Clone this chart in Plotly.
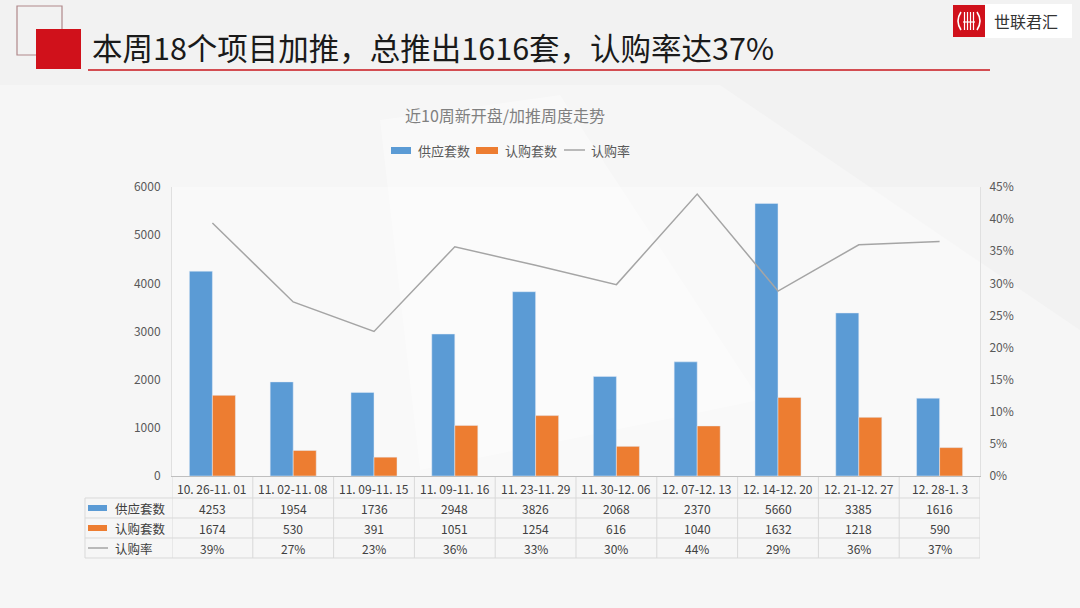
import plotly.graph_objects as go

categories = ["10.26-11.01", "11.02-11.08", "11.09-11.15", "11.09-11.16", "11.23-11.29",
              "11.30-12.06", "12.07-12.13", "12.14-12.20", "12.21-12.27", "12.28-1.3"]
supply = [4253, 1954, 1736, 2948, 3826, 2068, 2370, 5660, 3385, 1616]
sold = [1674, 530, 391, 1051, 1254, 616, 1040, 1632, 1218, 590]
rate = [0.394, 0.271, 0.225, 0.357, 0.328, 0.298, 0.439, 0.288, 0.360, 0.365]
rate_labels = ["39%", "27%", "23%", "36%", "33%", "30%", "44%", "29%", "36%", "37%"]
series_names = ["供应套数", "认购套数", "认购率"]
title_text = "本周18个项目加推，总推出1616套，认购率达37%"
chart_title = "近10周新开盘/加推周度走势"
brand = "世联君汇"

W, H = 1080, 608
L, R, T, B = 172, 980, 187, 476
PW, PH = R - L, B - T

def px(x):
    return (x - L) / PW

def py(y):
    return (B - y) / PH

BLUE = "#5B9BD5"
ORANGE = "#ED7D31"
GRAY = "#A5A5A5"
FONT = "Noto Sans CJK SC"
TXT = "#404040"

fig = go.Figure()
fig.add_trace(go.Bar(x=categories, y=supply, name=series_names[0], marker_color=BLUE))
fig.add_trace(go.Bar(x=categories, y=sold, name=series_names[1], marker_color=ORANGE))
fig.add_trace(go.Scatter(x=categories, y=rate, name=series_names[2], mode="lines",
                         line=dict(color=GRAY, width=1.5), yaxis="y2"))

shapes = []
annotations = []

def note(text, x, y, size, color, xanchor="center", family=FONT, xref="paper"):
    annotations.append(dict(text=text, xref=xref, yref="paper", x=x, y=y, xanchor=xanchor,
                            yanchor="middle", showarrow=False,
                            font=dict(family=family, size=size, color=color)))

# background light panels
shapes.append(dict(type="path", xref="paper", yref="paper", layer="below",
                   path=f"M {px(0)},{py(85)} L {px(720)},{py(85)} L {px(1080)},{py(330)} L {px(1080)},{py(608)} L {px(0)},{py(608)} Z",
                   fillcolor="rgba(255,255,255,0.3)", line_width=0))
shapes.append(dict(type="path", xref="paper", yref="paper", layer="below",
                   path=f"M {px(380)},{py(120)} L {px(560)},{py(95)} L {px(760)},{py(400)} L {px(420)},{py(470)} Z",
                   fillcolor="rgba(255,255,255,0.35)", line_width=0))

# decorative squares
shapes.append(dict(type="rect", xref="paper", yref="paper", x0=px(17), x1=px(62), y0=py(55), y1=py(6),
                   line=dict(color="#b0888a", width=1.2), fillcolor="rgba(0,0,0,0)"))
shapes.append(dict(type="rect", xref="paper", yref="paper", x0=px(36), x1=px(81), y0=py(69), y1=py(29),
                   line_width=0, fillcolor="#D0111B"))
# title underline
shapes.append(dict(type="line", xref="paper", yref="paper", x0=px(88), x1=px(990), y0=py(70), y1=py(70),
                   line=dict(color="#C8161D", width=1.5)))
# logo
shapes.append(dict(type="rect", xref="paper", yref="paper", x0=px(985), x1=px(1072), y0=py(38), y1=py(4),
                   line_width=0, fillcolor="white"))
shapes.append(dict(type="rect", xref="paper", yref="paper", x0=px(953), x1=px(985), y0=py(37), y1=py(5),
                   line_width=0, fillcolor="#D0111B"))
wl = dict(color="white", width=1.6)
shapes.append(dict(type="path", xref="paper", yref="paper",
                   path=f"M {px(961)},{py(12)} Q {px(955)},{py(21)} {px(961)},{py(30)}", line=wl))
shapes.append(dict(type="path", xref="paper", yref="paper",
                   path=f"M {px(977)},{py(12)} Q {px(983)},{py(21)} {px(977)},{py(30)}", line=wl))
for xv in (964.5, 967.5, 970.5, 973.5):
    shapes.append(dict(type="line", xref="paper", yref="paper", x0=px(xv), x1=px(xv), y0=py(12), y1=py(30),
                       line=dict(color="white", width=1.2)))
shapes.append(dict(type="line", xref="paper", yref="paper", x0=px(963), x1=px(975), y0=py(22), y1=py(22),
                   line=dict(color="white", width=1.2)))
note(brand, px(992), py(21), 16, "#333333", xanchor="left")
# title
note(title_text, px(90), py(47), 30.5, "#1a1a1a", xanchor="left")
# chart title
note(chart_title, px(505), py(115), 16, "#808080")

# legend (manual)
shapes.append(dict(type="rect", xref="paper", yref="paper", x0=px(391), x1=px(411), y0=py(154), y1=py(147),
                   line_width=0, fillcolor=BLUE))
note(series_names[0], px(416), py(150), 13, "#595959", xanchor="left")
shapes.append(dict(type="rect", xref="paper", yref="paper", x0=px(476), x1=px(498), y0=py(154), y1=py(147),
                   line_width=0, fillcolor=ORANGE))
note(series_names[1], px(503), py(150), 13, "#595959", xanchor="left")
shapes.append(dict(type="line", xref="paper", yref="paper", x0=px(564), x1=px(585), y0=py(150), y1=py(150),
                   line=dict(color=GRAY, width=1.5)))
note(series_names[2], px(589), py(150), 13, "#595959", xanchor="left")

# data table
row_y = [477, 498, 518, 538, 558]
TL = "#d9d9d9"
n = len(categories)
for yy in row_y[1:]:
    shapes.append(dict(type="line", xref="paper", yref="paper", x0=px(85), x1=px(R), y0=py(yy), y1=py(yy),
                       line=dict(color=TL, width=1)))
shapes.append(dict(type="line", xref="paper", yref="paper", x0=px(85), x1=px(85), y0=py(498), y1=py(558),
                   line=dict(color=TL, width=1)))
for i in range(n + 1):
    shapes.append(dict(type="line", xref="x", yref="paper", x0=i - 0.5, x1=i - 0.5, y0=py(477), y1=py(558),
                       line=dict(color=TL, width=1)))

centers = [488, 508, 528, 548]
rows = [categories, [str(v) for v in supply], [str(v) for v in sold], rate_labels]
for r, vals in enumerate(rows):
    for i, v in enumerate(vals):
        note(v.replace(".", ". ") if r == 0 else v, i, py(centers[r]), 12, TXT, xref="x")
# row headers
shapes.append(dict(type="rect", xref="paper", yref="paper", x0=px(88), x1=px(107), y0=py(511), y1=py(505),
                   line_width=0, fillcolor=BLUE))
shapes.append(dict(type="rect", xref="paper", yref="paper", x0=px(88), x1=px(107), y0=py(531), y1=py(525),
                   line_width=0, fillcolor=ORANGE))
shapes.append(dict(type="line", xref="paper", yref="paper", x0=px(88), x1=px(108), y0=py(548), y1=py(548),
                   line=dict(color=GRAY, width=1.5)))
for j, name in enumerate(series_names):
    note(name, px(113), py(centers[j + 1]), 12.5, TXT, xanchor="left")

fig.update_layout(
    width=W, height=H,
    margin=dict(l=L, r=W - R, t=T, b=H - B, pad=0),
    paper_bgcolor="#f2f2f2",
    plot_bgcolor="rgba(255,255,255,0.3)",
    showlegend=False,
    barmode="group",
    bargap=0.43,
    bargroupgap=0,
    font=dict(family=FONT, color="#595959"),
    xaxis=dict(showticklabels=False, showgrid=False, ticks="", showline=True, linecolor="#bfbfbf", linewidth=1,
               range=[-0.5, n - 0.5]),
    yaxis=dict(range=[0, 6000], dtick=1000, showgrid=False, showline=True, linecolor="#e0e0e0",
               tickfont=dict(family=FONT, size=12, color="#595959"), ticklabelstandoff=8, zeroline=False),
    yaxis2=dict(range=[0, 0.45], dtick=0.05, tickformat=".0%", overlaying="y", side="right", showgrid=False,
                showline=True, linecolor="#e0e0e0", tickfont=dict(family=FONT, size=12, color="#595959"),
                ticklabelstandoff=6, zeroline=False),
    shapes=shapes,
    annotations=annotations,
)

fig.write_html("out.html", config={"displayModeBar": False},
               post_script="document.body.style.margin='0px';document.body.style.overflow='hidden';")
